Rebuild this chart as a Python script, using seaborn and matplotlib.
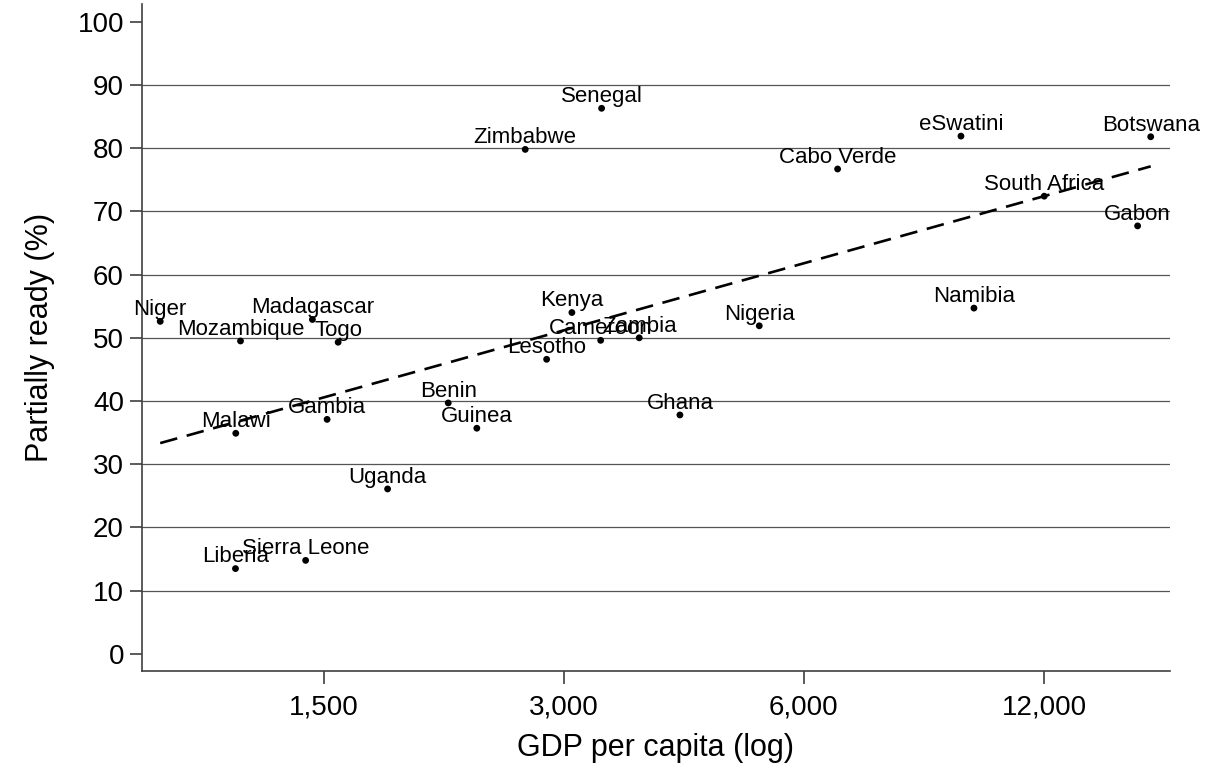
import pandas as pd
import numpy as np
import matplotlib.pyplot as plt
import matplotlib.ticker as mticker
import seaborn as sns

countries = ['Niger', 'Mozambique', 'Madagascar', 'Togo', 'Malawi', 'Gambia',
             'Benin', 'Guinea', 'Lesotho', 'Kenya', 'Cameroon', 'Zambia',
             'Nigeria', 'Ghana', 'Liberia', 'Sierra Leone', 'Uganda', 'Senegal',
             'Zimbabwe', 'Cabo Verde', 'eSwatini', 'Botswana', 'South Africa',
             'Gabon', 'Namibia']
gdp = [935, 1179, 1451, 1563, 1163, 1514,
       2148, 2333, 2854, 3070, 3336, 3729,
       5274, 4194, 1162, 1423, 1803, 3345,
       2683, 6613, 9443, 16334, 12010,
       15728, 9804]
ready = [52.6, 49.5, 52.9, 49.3, 34.9, 37.1,
         39.7, 35.7, 46.6, 54.0, 49.6, 50.0,
         51.9, 37.8, 13.5, 14.8, 26.1, 86.3,
         79.8, 76.7, 81.9, 81.8, 72.4,
         67.7, 54.7]

x_ticks = [1500, 3000, 6000, 12000]
y_ticks = list(range(0, 101, 10))

df = pd.DataFrame({'country': countries, 'gdp': gdp, 'ready': ready})

sns.set_theme(style='white')
plt.rcParams['font.family'] = ['Liberation Sans', 'DejaVu Sans']
plt.rcParams['text.color'] = 'black'
plt.rcParams['axes.labelcolor'] = 'black'
plt.rcParams['xtick.color'] = 'black'
plt.rcParams['ytick.color'] = 'black'

fig = plt.figure(figsize=(12.27, 7.64), dpi=100)
ax = fig.add_axes([0.1157, 0.1217, 0.8378, 0.8731])
ax.set_xscale('log')

# horizontal grid lines at 10..90
for yv in y_ticks[1:-1]:
    ax.axhline(yv, color='#555555', lw=0.9, zorder=0)

sns.regplot(data=df, x='gdp', y='ready', logx=True, ci=None, scatter=False,
            ax=ax, line_kws=dict(color='black', lw=1.9, dashes=(6.7, 3.7)))
sns.scatterplot(data=df, x='gdp', y='ready', color='black', s=24,
                edgecolor='none', ax=ax, zorder=3)

for _, r in df.iterrows():
    ax.annotate(r['country'], (r['gdp'], r['ready']), xytext=(0, 4.5),
                textcoords='offset points', ha='center', va='baseline',
                fontsize=16, color='black', zorder=4)

ax.set_xlim(887, 17267)
ax.set_ylim(-2.7, 102.8)
ax.set_xticks(x_ticks)
ax.xaxis.set_major_formatter(mticker.FuncFormatter(lambda v, p: f'{v:,.0f}'))
ax.xaxis.set_minor_locator(mticker.NullLocator())
ax.set_yticks(y_ticks)

ax.tick_params(axis='both', which='major', labelsize=20, length=9, width=1.2,
               color='#404040', direction='out', bottom=True, left=True)
ax.tick_params(axis='x', pad=8)
ax.tick_params(axis='y', pad=4)
ax.set_xlabel('GDP per capita (log)', fontsize=22, labelpad=9)
ax.set_ylabel('Partially ready (%)', fontsize=22, labelpad=16)

for side in ['top', 'right']:
    ax.spines[side].set_visible(False)
for side in ['left', 'bottom']:
    ax.spines[side].set_color('#404040')
    ax.spines[side].set_linewidth(1.2)

fig.savefig('out.png', dpi=100)
